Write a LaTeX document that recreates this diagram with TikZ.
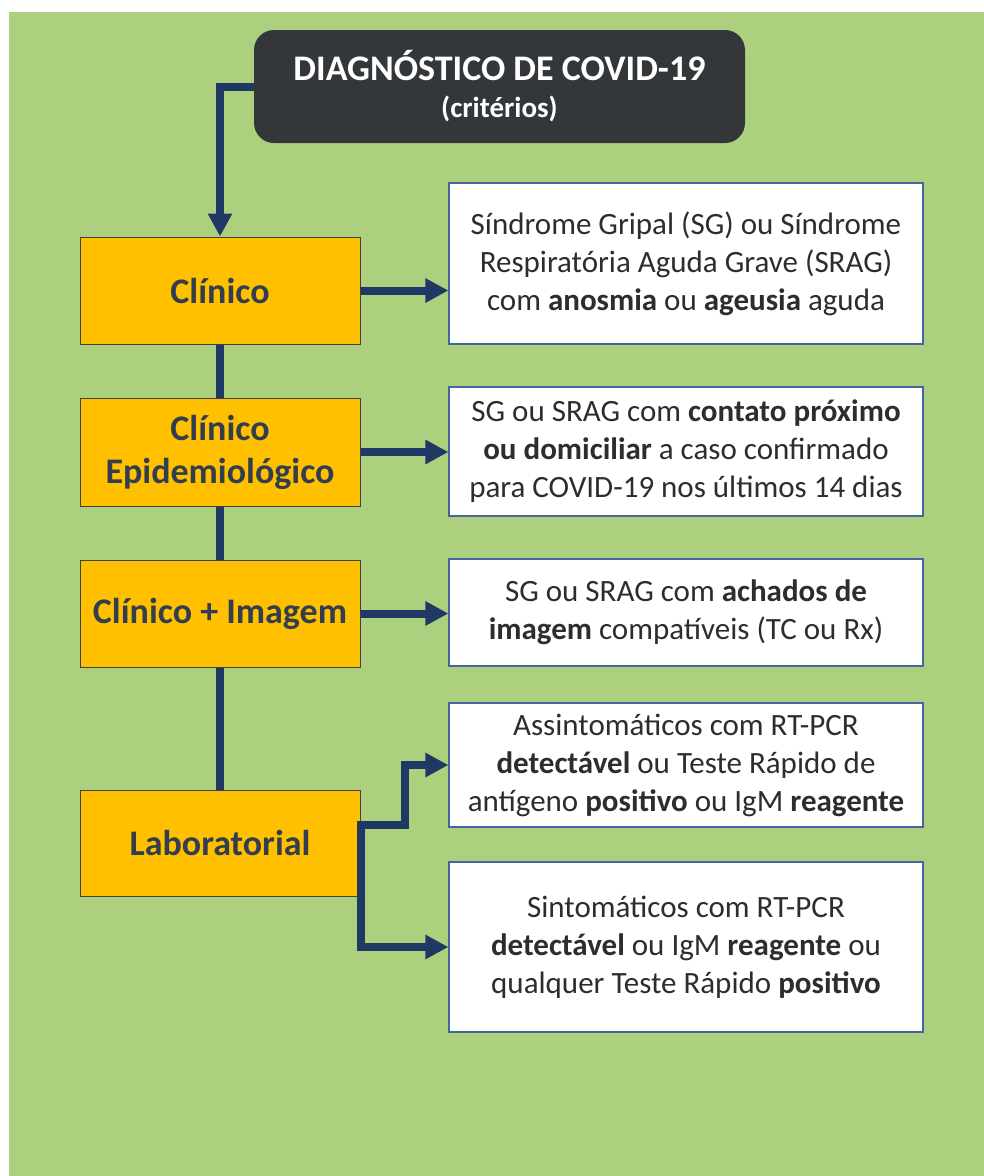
\documentclass[tikz,border=0pt]{standalone}
\usepackage{fontspec}
\setmainfont{Carlito}
\usetikzlibrary{arrows.meta,positioning,calc}
\definecolor{fundo}{RGB}{173,208,127}
\definecolor{ouro}{RGB}{255,192,0}
\definecolor{escuro}{RGB}{51,55,58}
\definecolor{azul}{RGB}{31,56,100}
\definecolor{borda}{RGB}{70,100,160}
\definecolor{textocinza}{RGB}{45,45,45}
\definecolor{textoouro}{RGB}{50,62,79}

\begin{document}
\begin{tikzpicture}[x=1pt,y=-1pt,>={Triangle[length=23pt,width=23pt]},
        linha/.style={azul,line width=8pt},
        criterio/.style={draw=borda,line width=1.2pt,fill=white,text=textocinza,align=center,minimum width=474pt,font=\fontsize{31}{38}\selectfont},
        tipo/.style={draw=black!75,line width=1pt,fill=ouro,text=textoouro,align=center,minimum width=280pt,minimum height=107pt,font=\bfseries\fontsize{36}{43}\selectfont}]
        % fundo
        \fill [white] (0,0) rectangle (984,1176);
        \fill [fundo] (9,12) rectangle (984,1176);
        \useasboundingbox (0,0) rectangle (984,1176);
        % titulo
        \node [fill=escuro,rounded corners=20pt,minimum width=491pt,minimum height=113pt,text=white,align=center,font=\bfseries\fontsize{36}{37}\selectfont] (Titulo) at (499.5,86.5) {DIAGNÓSTICO DE COVID-19\\{\fontsize{29}{35}\selectfont(critérios)}};
        % tipos de criterio
        \node [tipo] (Clinico) at (220,290.5) {Clínico};
        \node [tipo,minimum height=108pt] (ClinEpi) at (220,452) {Clínico\\Epidemiológico};
        \node [tipo] (ClinImg) at (220,613.5) {Clínico + Imagem};
        \node [tipo,minimum height=106pt] (Lab) at (220,843) {Laboratorial};
        % descricoes
        \node [criterio,minimum height=161pt] (CritClin) at (686,263.5) {Síndrome Gripal (SG) ou Síndrome\\Respiratória Aguda Grave (SRAG)\\com \textbf{anosmia} ou \textbf{ageusia} aguda};
        \node [criterio,minimum height=129pt] (CritEpi) at (686,451.5) {SG ou SRAG com \textbf{contato próximo}\\\textbf{ou domiciliar} a caso confirmado\\para COVID-19 nos últimos 14 dias};
        \node [criterio,minimum height=107pt] (CritImg) at (686,612.5) {SG ou SRAG com \textbf{achados de}\\\textbf{imagem} compatíveis (TC ou Rx)};
        \node [criterio,minimum height=124pt] (CritAssint) at (686,765) {Assintomáticos com RT-PCR\\\textbf{detectável} ou Teste Rápido de\\antígeno \textbf{positivo} ou IgM \textbf{reagente}};
        \node [criterio,minimum height=170pt] (CritSint) at (686,947) {Sintomáticos com RT-PCR\\\textbf{detectável} ou IgM \textbf{reagente} ou\\qualquer Teste Rápido \textbf{positivo}};
        % ligacoes
        \draw [linha,->] (Titulo.west) -| (Clinico.north);
        \draw [linha] (Clinico.south) -- (ClinEpi.north);
        \draw [linha] (ClinEpi.south) -- (ClinImg.north);
        \draw [linha] (ClinImg.south) -- (Lab.north);
        \draw [linha,->] (Clinico.east) -- (Clinico.east -| CritClin.west);
        \draw [linha,->] (ClinEpi.east) -- (ClinEpi.east -| CritEpi.west);
        \draw [linha,->] (ClinImg.east) -- (ClinImg.east -| CritImg.west);
        \coordinate (Garfo) at ([yshift=18pt]Lab.east);
        \draw [linha,->] (Garfo) -- ++(44,0) |- (CritAssint.west);
        \draw [linha,line cap=rect,->] (Garfo) |- (CritSint.west);
\end{tikzpicture}
\end{document}
